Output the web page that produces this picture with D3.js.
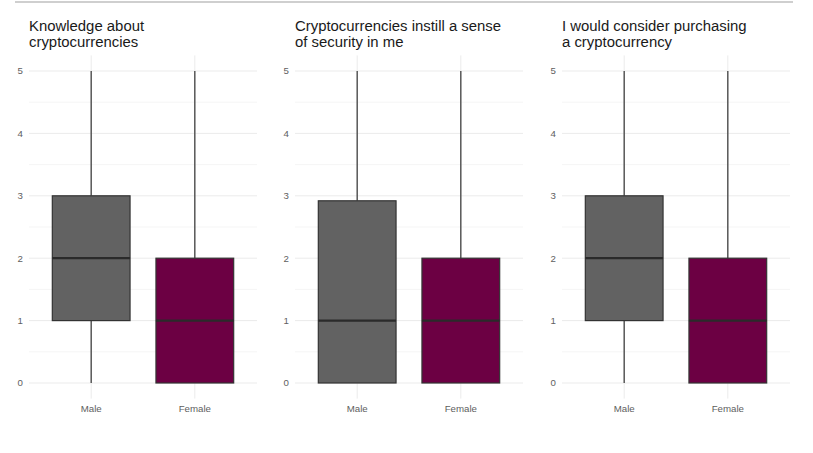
<!DOCTYPE html>
<html>
<head>
<meta charset="utf-8">
<script src="https://cdn.jsdelivr.net/npm/d3@7"></script>
<style>
	body { margin: 0; background: #fff; }
	svg { display: block; font-family: "Liberation Sans", Arial, sans-serif; }
	.grid-major { stroke: #ebebeb; stroke-width: 1; }
	.grid-minor { stroke: #f3f3f3; stroke-width: 0.8; }
	.tick-label { fill: #5e5e5e; font-size: 9.7px; }
	.title { fill: #1a1a1a; font-size: 14.9px; }
</style>
</head>
<body>
<div id="chart"></div>
<script>
// Panel titles (two lines each)
const titles = [
	["Knowledge about", "cryptocurrencies"],
	["Cryptocurrencies instill a sense", "of security in me"],
	["I would consider purchasing", "a cryptocurrency"]
];
const genders = ["Male", "Female"];
const yTicks = [0, 1, 2, 3, 4, 5];

// Box statistics per panel, one entry per gender: [min, q1, median, q3, max]
const maleStats = [
	[0, 1, 2, 3, 5],
	[0, 0, 1, 2.92, 5],
	[0, 1, 2, 3, 5]
];
const femaleStats = [
	[0, 0, 1, 2, 5],
	[0, 0, 1, 2, 5],
	[0, 0, 1, 2, 5]
];

const fills = { Male: "#626262", Female: "#6c0043" };

const width = 813, height = 453;
const panelLeft = [29, 295, 562];
const panelWidth = 228;
const plotTop = 55.4, plotBottom = 398.6;

const svg = d3.select("#chart")
	.append("svg")
	.attr("width", width)
	.attr("height", height);

// thin rule across the top
svg.append("line")
	.attr("x1", 15).attr("x2", 793)
	.attr("y1", 2).attr("y2", 2)
	.attr("stroke", "#a0a0a0")
	.attr("stroke-width", 1.2);

const y = d3.scaleLinear()
	.domain([-0.25, 5.25])
	.range([plotBottom, plotTop]);

titles.forEach((title, p) => {
	const g = svg.append("g")
		.attr("transform", "translate(" + panelLeft[p] + ",0)");

	// discrete x: 0.6 unit padding either side like ggplot
	const x = d3.scalePoint()
		.domain(genders)
		.range([0, panelWidth])
		.padding(0.6);
	const unit = x.step();
	const boxWidth = unit * 0.75;

	// minor grid
	d3.range(0.5, 5, 1).forEach(v => {
		g.append("line").classed("grid-minor", true)
			.attr("x1", 0).attr("x2", panelWidth)
			.attr("y1", y(v)).attr("y2", y(v));
	});
	// major grid
	yTicks.forEach(v => {
		g.append("line").classed("grid-major", true)
			.attr("x1", 0).attr("x2", panelWidth)
			.attr("y1", y(v)).attr("y2", y(v));
	});
	genders.forEach(c => {
		g.append("line").classed("grid-major", true)
			.attr("x1", x(c)).attr("x2", x(c))
			.attr("y1", plotTop).attr("y2", plotBottom);
	});

	// y tick labels
	g.selectAll(".ylab")
		.data(yTicks)
		.enter()
		.append("text")
		.classed("tick-label", true)
		.attr("x", -6)
		.attr("y", d => y(d))
		.attr("dy", "0.35em")
		.attr("text-anchor", "end")
		.text(d => d);

	// x tick labels
	g.selectAll(".xlab")
		.data(genders)
		.enter()
		.append("text")
		.classed("tick-label", true)
		.attr("x", d => x(d))
		.attr("y", plotBottom + 13)
		.attr("text-anchor", "middle")
		.text(d => d);

	// boxes
	const boxes = genders.map(c => ({
		gender: c,
		s: c == "Male" ? maleStats[p] : femaleStats[p]
	}));
	boxes.forEach(b => {
		const [mn, q1, med, q3, mx] = b.s;
		const cx = x(b.gender);
		g.append("line")
			.attr("x1", cx).attr("x2", cx)
			.attr("y1", y(q3)).attr("y2", y(mx))
			.attr("stroke", "#404040").attr("stroke-width", 1.3);
		g.append("line")
			.attr("x1", cx).attr("x2", cx)
			.attr("y1", y(mn)).attr("y2", y(q1))
			.attr("stroke", "#404040").attr("stroke-width", 1.3);
		g.append("rect")
			.attr("x", cx - boxWidth / 2)
			.attr("y", y(q3))
			.attr("width", boxWidth)
			.attr("height", y(q1) - y(q3))
			.attr("fill", fills[b.gender])
			.attr("stroke", "#333")
			.attr("stroke-width", 1.2);
		g.append("line")
			.attr("x1", cx - boxWidth / 2).attr("x2", cx + boxWidth / 2)
			.attr("y1", y(med)).attr("y2", y(med))
			.attr("stroke", "#2a2a2a").attr("stroke-width", 2.2);
	});

	// title
	const t = g.append("text").classed("title", true);
	title.forEach((line, i) => {
		t.append("tspan")
			.attr("x", 0)
			.attr("y", 31 + i * 16)
			.text(line);
	});
});
</script>
</body>
</html>
